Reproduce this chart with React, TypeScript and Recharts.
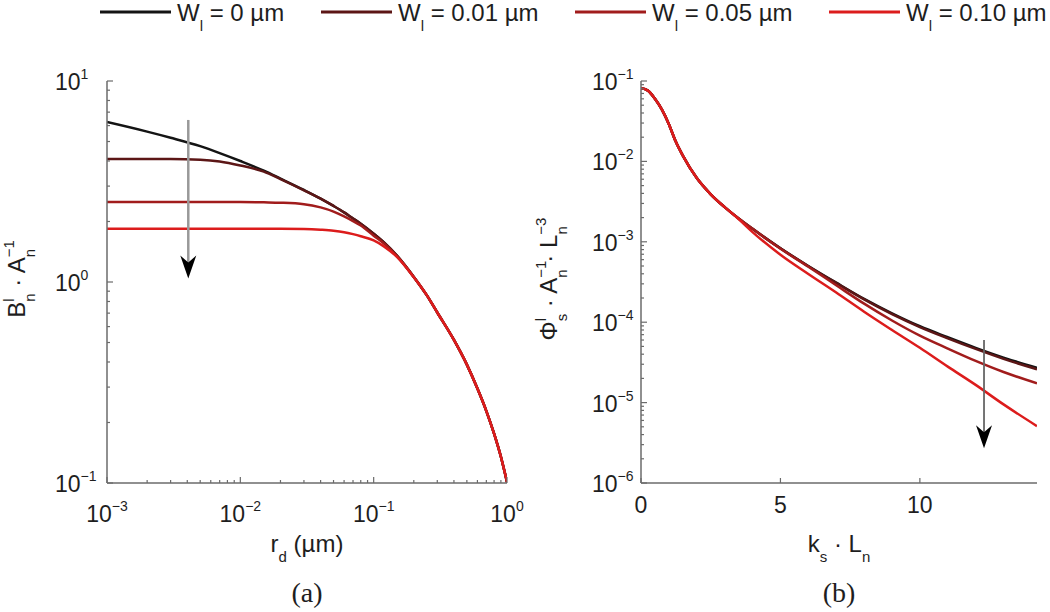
import React from 'react'
import { LineChart, Line, XAxis, YAxis, ReferenceLine } from 'recharts'

const FONT = '"Liberation Sans", Arial, sans-serif'
const AXIS = '#6b6b6b'
const INK = '#1e1e1e'

// series: intermediate-layer width W_l
const widths = ['0', '0.01', '0.05', '0.10']
const keys = ['w0', 'w01', 'w05', 'w10']
const colors = ['#141414', '#5c1616', '#a11c1c', '#dc1c1c']

// panel (a): B_n^l / A_n vs r_d (µm)
const rd = [0.001, 0.002, 0.003, 0.005, 0.007, 0.01, 0.015, 0.02, 0.03, 0.04, 0.05, 0.06, 0.07, 0.08, 0.1, 0.12, 0.15, 0.2, 0.25, 0.3, 0.4, 0.5, 0.6, 0.7, 0.8, 0.9, 1.0]
const bW0 = [6.25, 5.6, 5.22, 4.74, 4.38, 4.0, 3.58, 3.27, 2.87, 2.6, 2.39, 2.22, 2.07, 1.95, 1.74, 1.57, 1.35, 1.06, 0.86, 0.705, 0.515, 0.388, 0.295, 0.228, 0.176, 0.135, 0.101]
const bW01 = [4.09, 4.09, 4.09, 4.06, 3.98, 3.8, 3.54, 3.25, 2.86, 2.6, 2.39, 2.22, 2.07, 1.95, 1.74, 1.57, 1.35, 1.06, 0.86, 0.705, 0.515, 0.388, 0.295, 0.228, 0.176, 0.135, 0.101]
const bW05 = [2.5, 2.5, 2.5, 2.5, 2.5, 2.5, 2.49, 2.48, 2.44, 2.35, 2.24, 2.12, 2.01, 1.91, 1.7, 1.55, 1.34, 1.06, 0.86, 0.705, 0.515, 0.388, 0.295, 0.228, 0.176, 0.135, 0.101]
const bW10 = [1.84, 1.84, 1.84, 1.84, 1.84, 1.84, 1.84, 1.84, 1.835, 1.82, 1.8, 1.77, 1.73, 1.69, 1.61, 1.5, 1.33, 1.055, 0.86, 0.705, 0.515, 0.388, 0.295, 0.228, 0.176, 0.135, 0.101]

// panel (b): Φ_s^l / A_n / L_n^3 vs k_s L_n
const ks = [0, 0.25, 0.5, 0.75, 1, 1.25, 1.5, 2, 2.5, 3, 3.5, 4, 5, 6, 7, 8, 9, 10, 11, 12, 13, 14.2]
const pW0 = [0.081, 0.076, 0.06, 0.044, 0.029, 0.0175, 0.0118, 0.0062, 0.0039, 0.0027, 0.00195, 0.00145, 8.3e-4, 5.0e-4, 3.1e-4, 1.95e-4, 1.29e-4, 8.9e-5, 6.5e-5, 4.8e-5, 3.63e-5, 2.7e-5]
const pW01 = [0.081, 0.076, 0.06, 0.044, 0.029, 0.0175, 0.0118, 0.0062, 0.0039, 0.0027, 0.00195, 0.00145, 8.3e-4, 4.97e-4, 3.07e-4, 1.92e-4, 1.26e-4, 8.7e-5, 6.3e-5, 4.65e-5, 3.5e-5, 2.6e-5]
const pW05 = [0.081, 0.076, 0.06, 0.044, 0.029, 0.0175, 0.0118, 0.0062, 0.0039, 0.0027, 0.00195, 0.00145, 8.2e-4, 4.9e-4, 2.88e-4, 1.7e-4, 1.05e-4, 6.8e-5, 4.7e-5, 3.3e-5, 2.4e-5, 1.74e-5]
const pW10 = [0.081, 0.076, 0.06, 0.044, 0.029, 0.0175, 0.0118, 0.0062, 0.0039, 0.0027, 0.00192, 0.00132, 6.9e-4, 3.98e-4, 2.34e-4, 1.35e-4, 8.0e-5, 4.8e-5, 2.8e-5, 1.66e-5, 9.5e-6, 5.1e-6]

const leftData = rd.map((x, i) => ({ x, w0: bW0[i], w01: bW01[i], w05: bW05[i], w10: bW10[i] }))
const rightData = ks.map((x, i) => ({ x, w0: pW0[i], w01: pW01[i], w05: pW05[i], w10: pW10[i] }))

// arrows (direction of increasing W_l)
const arrowA = [{ x: 0.00407, y: 6.4 }, { x: 0.00407, y: 1.04 }]
const arrowB = [{ x: 12.3, y: 6.0e-5 }, { x: 12.3, y: 2.7e-6 }]

function logTicks(lo: number, hi: number) {
  const out: number[] = []
  for (let e = lo; e < hi; e++) {
    for (let m = 1; m < 10; m++) out.push(+(m * Math.pow(10, e)).toPrecision(3))
  }
  out.push(Math.pow(10, hi))
  return out
}
const aYTicks = logTicks(-1, 1)
const aXTicks = logTicks(-3, 0)
const bYTicks = logTicks(-6, -1)
const bXTicks = [0, 5, 10]

type Seg = [string, 'n' | 'sup' | 'sub', number?]
function rich(segs: Seg[], fs: number) {
  const small = Math.round(fs * 0.62)
  let level = 0
  return segs.map(([t, kind, dx], i) => {
    const target = kind === 'sup' ? -fs * 0.45 : kind === 'sub' ? fs * 0.4 : 0
    const dy = target - level
    level = target
    return (
      <tspan key={i} dy={dy} dx={dx} fontSize={kind === 'n' ? fs : small}>
        {t}
      </tspan>
    )
  })
}

function decadeExp(v: number) {
  const e = Math.log10(v)
  if (Math.abs(e - Math.round(e)) > 1e-6) return null
  const r = Math.round(e)
  return r < 0 ? '\u2212' + Math.abs(r) : String(r)
}

const makeYTick = (labelDx: number) => (p: any) => {
  const { x, y, payload } = p
  const exp = decadeExp(payload.value)
  return (
    <g>
      <line x1={x} x2={x + (exp !== null ? 6 : 3)} y1={y} y2={y} stroke={AXIS} strokeWidth={1.2} />
      {exp !== null && (
        <text x={x - labelDx} y={y + 9} fontSize={23} fill={INK} fontFamily={FONT}>
          10<tspan dy={-11} fontSize={14}>{exp}</tspan>
        </text>
      )}
    </g>
  )
}

const logXTick = (p: any) => {
  const { x, y, payload } = p
  const exp = decadeExp(payload.value)
  return (
    <g>
      <line x1={x} x2={x} y1={y} y2={y - (exp !== null ? 6 : 3)} stroke={AXIS} strokeWidth={1.2} />
      {exp !== null && (
        <text x={x} y={y + 39} fontSize={23} fill={INK} fontFamily={FONT} textAnchor="middle">
          10<tspan dy={-11} fontSize={14}>{exp}</tspan>
        </text>
      )}
    </g>
  )
}

const linXTick = (p: any) => {
  const { x, y, payload } = p
  return (
    <g>
      <line x1={x} x2={x} y1={y} y2={y - 5} stroke={AXIS} strokeWidth={1.2} />
      <text x={x} y={y + 30} fontSize={23} fill={INK} fontFamily={FONT} textAnchor="middle">
        {payload.value}
      </text>
    </g>
  )
}

const yTitle = (segs: Seg[], dxFromAxis: number) => (p: any) => {
  const vb = p.viewBox
  const bx = vb.x + vb.width - dxFromAxis
  const cy = vb.y + vb.height / 2 - 3
  return (
    <text x={bx} y={cy} transform={`rotate(-90, ${bx}, ${cy})`} textAnchor="middle" fontSize={24} fill={INK} fontFamily={FONT}>
      {rich(segs, 24)}
    </text>
  )
}

const xTitle = (segs: Seg[], tag: string) => (p: any) => {
  const vb = p.viewBox
  const cx = vb.x + vb.width / 2
  return (
    <g>
      <text x={cx} y={vb.y + 69} textAnchor="middle" fontSize={24} fill={INK} fontFamily={FONT}>
        {rich(segs, 24)}
      </text>
      <text x={cx} y={vb.y + 119} textAnchor="middle" fontSize={28} fill={INK} fontFamily='"Liberation Serif", "Times New Roman", serif'>
        {tag}
      </text>
    </g>
  )
}

const arrowShape = (color: string, w: number) => (p: any) => {
  const { x1, y1, x2, y2 } = p
  return (
    <g>
      <line x1={x1} y1={y1} x2={x2} y2={y2 - 12} stroke={color} strokeWidth={w} />
      <polygon points={`${x2},${y2} ${x2 - 8},${y2 - 23} ${x2},${y2 - 16} ${x2 + 8},${y2 - 23}`} fill="#000" />
    </g>
  )
}

function Legend() {
  const xs = [100, 321, 575, 829]
  return (
    <svg width={1050} height={44} style={{ position: 'absolute', left: 0, top: 0 }}>
      {widths.map((w, i) => (
        <g key={w}>
          <line x1={xs[i]} x2={xs[i] + 71} y1={12} y2={12} stroke={colors[i]} strokeWidth={3} />
          <text x={xs[i] + 77} y={21} fontSize={24} fill={INK} fontFamily={FONT}>
            {rich([['W', 'n'], ['l', 'sub'], [` = ${w} \u00b5m`, 'n']], 24)}
          </text>
        </g>
      ))}
    </svg>
  )
}

function series() {
  return keys.map((k, i) => (
    <Line key={k} dataKey={k} type="monotone" stroke={colors[i]} strokeWidth={2.5} dot={false} isAnimationActive={false} />
  ))
}

export default function App() {
  return (
    <div style={{ position: 'absolute', left: 0, top: 0, width: 1050, height: 612, background: '#fff', fontFamily: FONT }}>
      <div style={{ position: 'absolute', left: 0, top: 0 }}>
        <LineChart width={540} height={612} data={leftData} margin={{ top: 81, right: 33, bottom: 99, left: 47 }}>
          <XAxis
            dataKey="x"
            type="number"
            scale="log"
            domain={[0.001, 1]}
            ticks={aXTicks}
            interval={0}
            allowDataOverflow
            height={30}
            tickSize={0}
            tickMargin={0}
            tick={logXTick}
            axisLine={{ stroke: AXIS, strokeWidth: 1.5 }}
            label={{ content: xTitle([['r', 'n'], ['d', 'sub'], [' (\u00b5m)', 'n']], '(a)') }}
          />
          <YAxis
            type="number"
            scale="log"
            domain={[0.1, 10]}
            ticks={aYTicks}
            interval={0}
            allowDataOverflow
            width={60}
            tickSize={0}
            tickMargin={0}
            tick={makeYTick(52)}
            axisLine={{ stroke: AXIS, strokeWidth: 1.5 }}
            label={{
              content: yTitle(
                [['B', 'n'], ['l', 'sup'], ['n', 'sub', -3.3], [' \u00b7 A', 'n'], ['\u22121', 'sup'], ['n', 'sub', -17]],
                82,
              ),
            }}
          />
          {series()}
          <ReferenceLine segment={arrowA} ifOverflow="visible" shape={arrowShape('#999', 2.5)} />
        </LineChart>
      </div>
      <div style={{ position: 'absolute', left: 520, top: 0 }}>
        <LineChart width={530} height={612} data={rightData} margin={{ top: 81, right: 13, bottom: 99, left: 61 }}>
          <XAxis
            dataKey="x"
            type="number"
            domain={[0, 14.2]}
            ticks={bXTicks}
            interval={0}
            allowDataOverflow
            height={30}
            tickSize={0}
            tickMargin={0}
            tick={linXTick}
            axisLine={{ stroke: AXIS, strokeWidth: 1.5 }}
            label={{ content: xTitle([['k', 'n'], ['s', 'sub'], [' \u00b7 L', 'n'], ['n', 'sub']], '(b)') }}
          />
          <YAxis
            type="number"
            scale="log"
            domain={[1e-6, 0.1]}
            ticks={bYTicks}
            interval={0}
            allowDataOverflow
            width={60}
            tickSize={0}
            tickMargin={0}
            tick={makeYTick(49)}
            axisLine={{ stroke: AXIS, strokeWidth: 1.5 }}
            label={{
              content: yTitle(
                [
                  ['\u03a6', 'n'],
                  ['l', 'sup'],
                  ['s', 'sub', -3.3],
                  [' \u00b7 A', 'n'],
                  ['\u22121', 'sup'],
                  ['n', 'sub', -17],
                  [' \u00b7 L', 'n'],
                  ['\u22123', 'sup'],
                  ['n', 'sub', -17],
                ],
                84,
              ),
            }}
          />
          {series()}
          <ReferenceLine segment={arrowB} ifOverflow="visible" shape={arrowShape('#666', 1.8)} />
        </LineChart>
      </div>
      <Legend />
    </div>
  )
}
